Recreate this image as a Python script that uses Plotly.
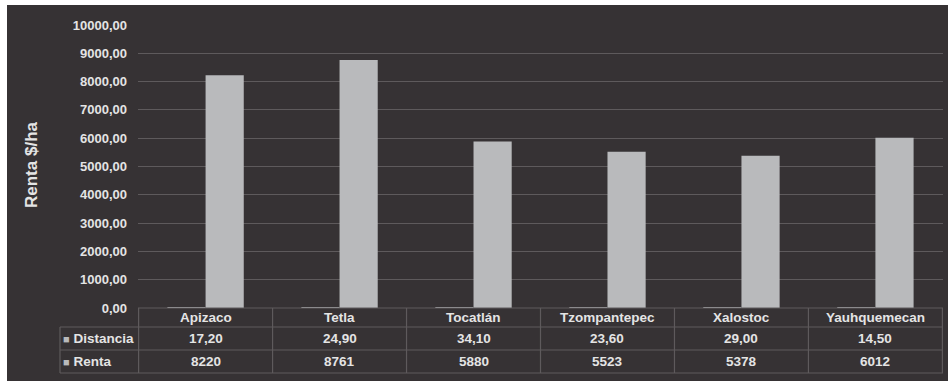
import plotly.graph_objects as go

# Data
categories = ["Apizaco", "Tetla", "Tocatlán", "Tzompantepec", "Xalostoc", "Yauhquemecan"]
distancia = [17.20, 24.90, 34.10, 23.60, 29.00, 14.50]
renta = [8220, 8761, 5880, 5523, 5378, 6012]
row_names = ["Distancia", "Renta"]
y_title = "Renta $/ha"

W, H = 948, 381
BG = "#363234"
TXT = "#e4e4e4"
BAR = "#b9babc"
LINE = "#5e5a5c"
FONT = "Liberation Sans"

def px(x):
    return x / W

def py(y):
    return 1 - y / H

# plot area in pixels
X0, X1 = 138, 943
Y_TOP, Y_ZERO = 25, 308
ROW_Y = [308, 327, 350, 373]
TABLE_LEFT = 60

fig = go.Figure()
fig.add_trace(go.Bar(x=categories, y=distancia, name=row_names[0], marker_color=BAR, marker_line_width=0))
fig.add_trace(go.Bar(x=categories, y=renta, name=row_names[1], marker_color=BAR, marker_line_width=0))

shapes = [
    # dark chart background
    dict(type="rect", xref="paper", yref="paper", x0=px(7), x1=1.01, y0=-0.01, y1=py(5),
         fillcolor=BG, line_width=0, layer="below"),
]
# horizontal table rules
for i, yy in enumerate(ROW_Y):
    left = X0 if i == 0 else TABLE_LEFT
    shapes.append(dict(type="line", xref="paper", yref="paper", x0=px(left), x1=px(X1),
                       y0=py(yy), y1=py(yy), line=dict(color=LINE, width=1.2)))
# vertical rules: left of the row headers, and between categories
shapes.append(dict(type="line", xref="paper", yref="paper", x0=px(TABLE_LEFT), x1=px(TABLE_LEFT),
                   y0=py(ROW_Y[1]), y1=py(ROW_Y[3]), line=dict(color=LINE, width=1.2)))
for k in range(len(categories) + 1):
    shapes.append(dict(type="line", xref="x", yref="paper", x0=k - 0.5, x1=k - 0.5,
                       y0=py(ROW_Y[0]), y1=py(ROW_Y[3]), line=dict(color=LINE, width=1.2)))

annotations = [
    dict(text=f"<b>{y_title}</b>", xref="paper", yref="paper", x=px(31), y=py(165),
         xanchor="center", yanchor="middle",
         textangle=-90, showarrow=False, font=dict(family=FONT, size=17, color=TXT)),
]
row_centers = [(ROW_Y[i] + ROW_Y[i + 1]) / 2 for i in range(3)]
cell = dict(xref="x", yref="paper", xanchor="center", yanchor="middle", showarrow=False,
            font=dict(family=FONT, size=13.5, color=TXT))
for i, c in enumerate(categories):
    annotations.append(dict(text=f"<b>{c}</b>", x=i, y=py(row_centers[0]), **cell))
    annotations.append(dict(text=f"<b>{distancia[i]:.2f}</b>".replace(".", ","),
                            x=i, y=py(row_centers[1]), **cell))
    annotations.append(dict(text=f"<b>{renta[i]}</b>", x=i, y=py(row_centers[2]), **cell))
for j, name in enumerate(row_names):
    annotations.append(dict(text=f"<span style='color:{BAR};font-size:11px'>■</span> <b>{name}</b>",
                            xref="paper", yref="paper", x=px(TABLE_LEFT + 1), y=py(row_centers[j + 1]),
                            xanchor="left", yanchor="middle", showarrow=False,
                            font=dict(family=FONT, size=13.5, color=TXT)))

fig.update_layout(
    width=W, height=H,
    margin=dict(l=0, r=0, t=0, b=0),
    paper_bgcolor="white",
    plot_bgcolor="rgba(0,0,0,0)",
    separators=",.",
    barmode="group",
    bargap=0.43,
    bargroupgap=0,
    showlegend=False,
    shapes=shapes,
    annotations=annotations,
    xaxis=dict(domain=[px(X0), px(X1)], showticklabels=False, showgrid=False, zeroline=False,
               showline=False, ticks="", automargin=False),
    yaxis=dict(domain=[py(Y_ZERO), py(Y_TOP)], range=[0, 10000], dtick=1000, tickformat=".2f",
               showgrid=True, gridcolor=LINE, gridwidth=1.2, zeroline=False, showline=False,
               ticks="", ticklabelstandoff=10, automargin=False,
               tickfont=dict(family=FONT, size=13, color=TXT, weight="bold")),
)

fig.write_html("out.html")
